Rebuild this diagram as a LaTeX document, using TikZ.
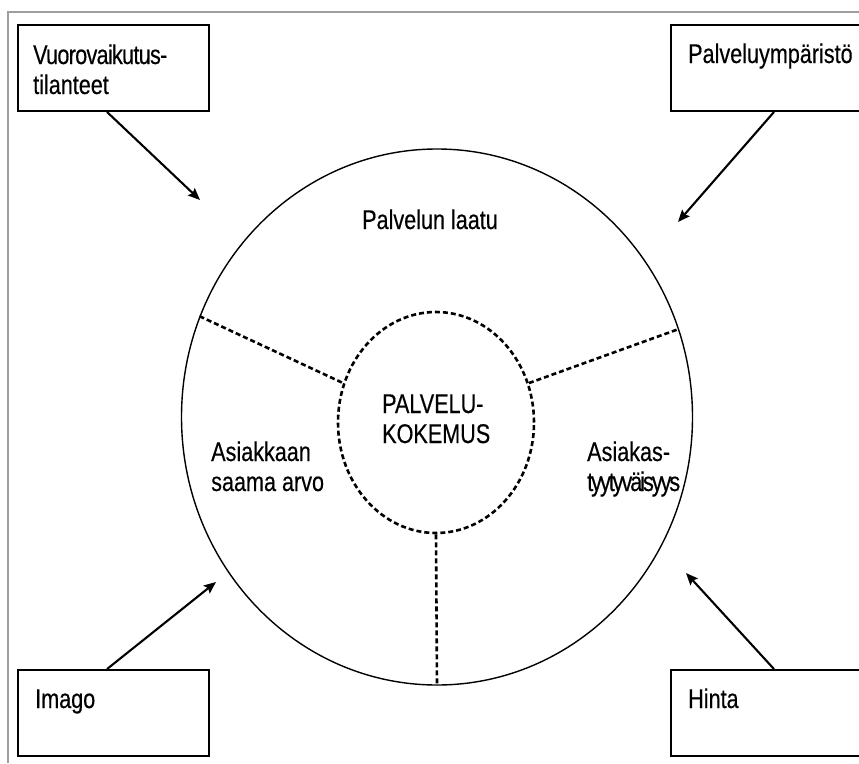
\documentclass[tikz,border=0pt]{standalone}
\usepackage{fontspec}
\setmainfont{Liberation Sans}[FakeStretch=0.8,FakeBold=0.35]
\newfontfamily\tightA{Liberation Sans}[FakeStretch=0.8,FakeBold=0.35,LetterSpace=-2.6]
\newfontfamily\tightB{Liberation Sans}[FakeStretch=0.8,FakeBold=0.35,LetterSpace=-7.5]
\usetikzlibrary{shapes.geometric,arrows.meta}
\begin{document}
\begin{tikzpicture}[x=1pt,y=-1pt,
  box/.style={draw,line width=1.9pt,minimum width=191pt,minimum height=86pt,inner sep=0pt},
  lbl/.style={anchor=base west,inner sep=0pt,align=left,font=\fontsize{27}{30}\selectfont},
  arr/.style={line width=2.1pt,-{Stealth[length=12pt,width=10pt,inset=2pt]}},
  sep/.style={line width=2.6pt,dash pattern=on 5pt off 3pt},
  frameline/.style={draw=black!38,line width=1.2pt}]
\useasboundingbox (0,0) rectangle (859,763);
\clip (0,0) rectangle (859,763);
\draw[frameline] (8,763) -- (8,12) -- (859,12);
% boxes
\node[box] (tl) at (113.5,68) {};
\node[box] (tr) at (766.5,68) {};
\node[box] (bl) at (113.5,713) {};
\node[box] (br) at (766.5,713) {};
% box texts
\node[lbl] (tlt) at (33,94) {{\tightA Vuorovaikutus-}\\tilanteet};
\node[lbl] (trt) at (688,63) {Palveluympäristö};
\node[lbl] (blt) at (35,708) {Imago};
\node[lbl] (brt) at (688,708) {Hinta};
% ellipses
\node[draw,ellipse,line width=1.4pt,minimum width=511pt,minimum height=536pt,inner sep=0pt] (outer) at (437,417) {};
\node[draw,ellipse,sep,minimum width=196pt,minimum height=221pt,inner sep=0pt] (inner) at (436,422.5) {};
% separators
\draw[sep] (outer.157) -- (inner.157);
\draw[sep] (inner.23) -- (outer.20);
\draw[sep] (inner.270) -- (outer.270);
% texts in circle
\node[lbl] (q) at (362,229) {Palvelun laatu};
\node[lbl] (pk) at (382,443) {PALVELU-\\KOKEMUS};
\node[lbl] (av) at (211,491) {Asiakkaan\\saama arvo};
\node[lbl] (at) at (587,491) {Asiakas-\\{\tightB tyytyväisyys}};
% arrows
\coordinate (e1) at (200,200);
\coordinate (e2) at (678,222);
\coordinate (e3) at (216,582);
\coordinate (e4) at (686,573);
\draw[arr] ([xshift=-6.5pt]tl.south) -- (e1);
\draw[arr] ([xshift=7.5pt]tr.south) -- (e2);
\draw[arr] ([xshift=-6.5pt]bl.north) -- (e3);
\draw[arr] ([xshift=7.5pt]br.north) -- (e4);
\end{tikzpicture}
\end{document}
